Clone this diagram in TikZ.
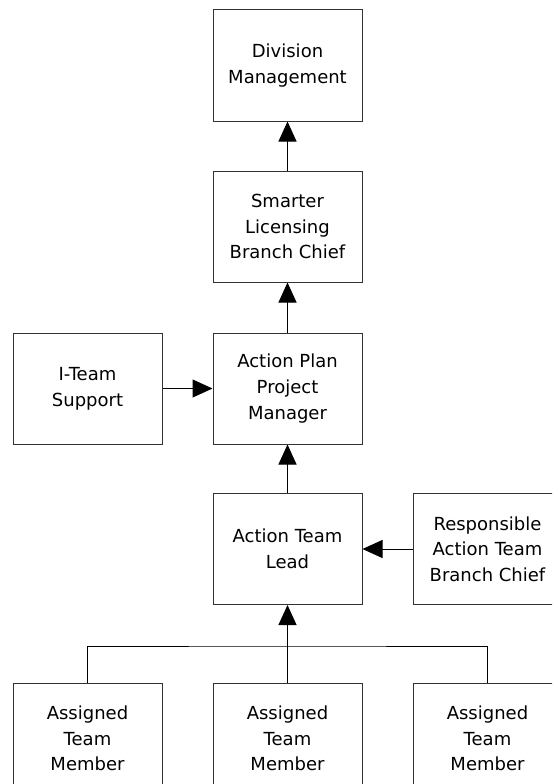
\documentclass[tikz,border=0pt]{standalone}
\usepackage{fontspec}
\setmainfont{DejaVu Sans}
\usetikzlibrary{arrows.meta}
\tikzset{%
  box/.style={draw=black!80,line width=1pt,minimum width=149pt,minimum height=111pt,
    inner sep=0pt,align=center,font=\fontsize{18pt}{25.7pt}\selectfont},
  arr/.style={line width=1pt,-{Triangle[length=20pt,width=18pt]}}
}
\begin{document}
\begin{tikzpicture}[x=1pt,y=-1pt]
  \useasboundingbox (0,0) rectangle (552,784);
  \clip (0,0) rectangle (552,784);
  \node[box] (dm) at (287.5,65.5) {Division\\Management};
  \node[box] (sl) at (287.5,226.5) {Smarter\\Licensing\\Branch Chief};
  \node[box] (it) at (87.5,388.5) {I-Team\\Support};
  \node[box] (pm) at (287.5,388.5) {Action Plan\\Project\\Manager};
  \node[box] (tl) at (287.5,549) {Action Team\\Lead};
  \node[box] (rb) at (487.5,549) {Responsible\\Action Team\\Branch Chief};
  \node[box] (m0) at (87.5,738.5) {Assigned\\Team\\Member};
  \node[box] (m1) at (287.5,738.5) {Assigned\\Team\\Member};
  \node[box] (m2) at (487.5,738.5) {Assigned\\Team\\Member};
  %%%
  \draw[arr] (sl) -- (dm);
  \draw[arr] (pm) -- (sl);
  \draw[arr] (it) -- (pm);
  \draw[arr] (tl) -- (pm);
  \draw[arr] (rb) -- (tl);
  \coordinate (fork) at (287.5,646);
  \draw[line width=1pt] (m0.north) |- (fork) -| (m2.north);
  \draw[arr] (m1) -- (tl);
\end{tikzpicture}
\end{document}
